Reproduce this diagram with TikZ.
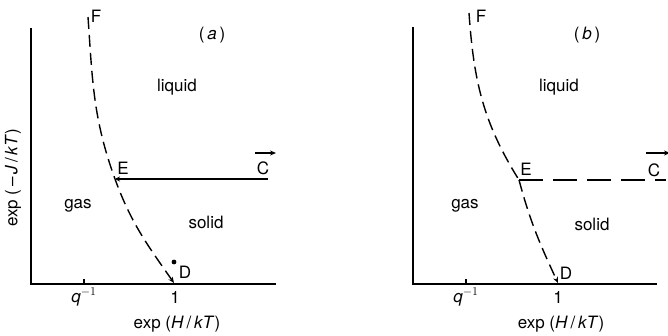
\documentclass[tikz,border=0pt]{standalone}
\usepackage{fontspec}
\setsansfont{TeX Gyre Heros}
\usepackage{tikz}
\usetikzlibrary{positioning,arrows.meta,calc}

\begin{document}
\begin{tikzpicture}[
    x=1pt, y=-1pt,
    axis/.style={line width=1.2pt},
    bound/.style={line width=1.4pt, dash pattern=on 12pt off 6pt},
    longdash/.style={line width=1.4pt, dash pattern=on 24pt off 10pt},
    txt/.style={font=\sffamily\fontsize{17}{19}\selectfont, inner sep=1pt},
    tip/.style={-{Stealth[length=6pt,width=5pt]}}
]
\useasboundingbox (0,0) rectangle (668,336);

% ---- panel (a)
\coordinate (ao) at (31,284);
\coordinate (ay) at (31,28);
\coordinate (ax) at (276,284);
\coordinate (aF) at (88,17);
\coordinate (aE) at (115,179);
\coordinate (aD) at (174,283);
\coordinate (aC) at (268,179);
\draw[axis] (ay) -- (ao) -- (ax);
\draw[axis] (84,284) -- (84,279);

\node[txt] (aFl) at (96,16) {F};
\node[txt] (aEl) at (123,168) {E};
\node[txt] (aDl) at (185,272) {D};
\node[txt] (aCl) at (263,168) {C};
\node[txt] (alab) at (212,35) {(\,\textit{a}\,)};
\node[txt] (aliq) at (177,87) {liquid};
\node[txt] (agas) at (78,206) {gas};
\node[txt] (asol) at (206,222) {solid};
\node[txt] (aq) at (84,297) {\textit{q}$^{-1}$};
\node[txt] (a1) at (175,297) {1};
\node[txt] (axl) at (177,324) {exp (\textit{H}\,/\,\textit{kT})};
\node[txt, rotate=90] (ayl) at (13,178) {exp (\,\textendash\,\textit{J}\,/\,\textit{kT})};

\draw[bound, tip] (aF) to[out=-86, in=110] (aE) to[out=-70, in=125] (aD);
\draw[line width=1.4pt, {Stealth[length=5pt,width=5pt]}-] (aE) -- (aC);
\draw[tip, line width=1.2pt] (255,153) -- (276,153);
\fill (174,262) circle (2.4pt);

% ---- panel (b)
\coordinate (bo) at (413,284);
\coordinate (by) at (413,27);
\coordinate (bx) at (657,284);
\coordinate (bF) at (469,13);
\coordinate (bE) at (519,180);
\coordinate (bD) at (558,283);
\coordinate (bC) at (666,180);
\draw[axis] (by) -- (bo) -- (bx);
\draw[axis] (466,284) -- (466,279);

\node[txt] (bFl) at (481,16) {F};
\node[txt] (bEl) at (526,169) {E};
\node[txt] (bDl) at (566,273) {D};
\node[txt] (bCl) at (654,170) {C};
\node[txt] (blab) at (587,35) {(\,\textit{b}\,)};
\node[txt] (bliq) at (559,87) {liquid};
\node[txt] (bgas) at (465,206) {gas};
\node[txt] (bsol) at (592,224) {solid};
\node[txt] (bq) at (466,297) {\textit{q}$^{-1}$};
\node[txt] (b1) at (558,297) {1};
\node[txt] (bxl) at (561,324) {exp (\textit{H}\,/\,\textit{kT})};

\draw[bound] (bF) to[out=-86, in=122] (bE);
\draw[bound, tip] (bE) to[out=-75, in=115] (bD);
\draw[longdash] (bE) -- (bC);
\draw[tip, line width=1.2pt] (646,153) -- (670,153);
\end{tikzpicture}
\end{document}
